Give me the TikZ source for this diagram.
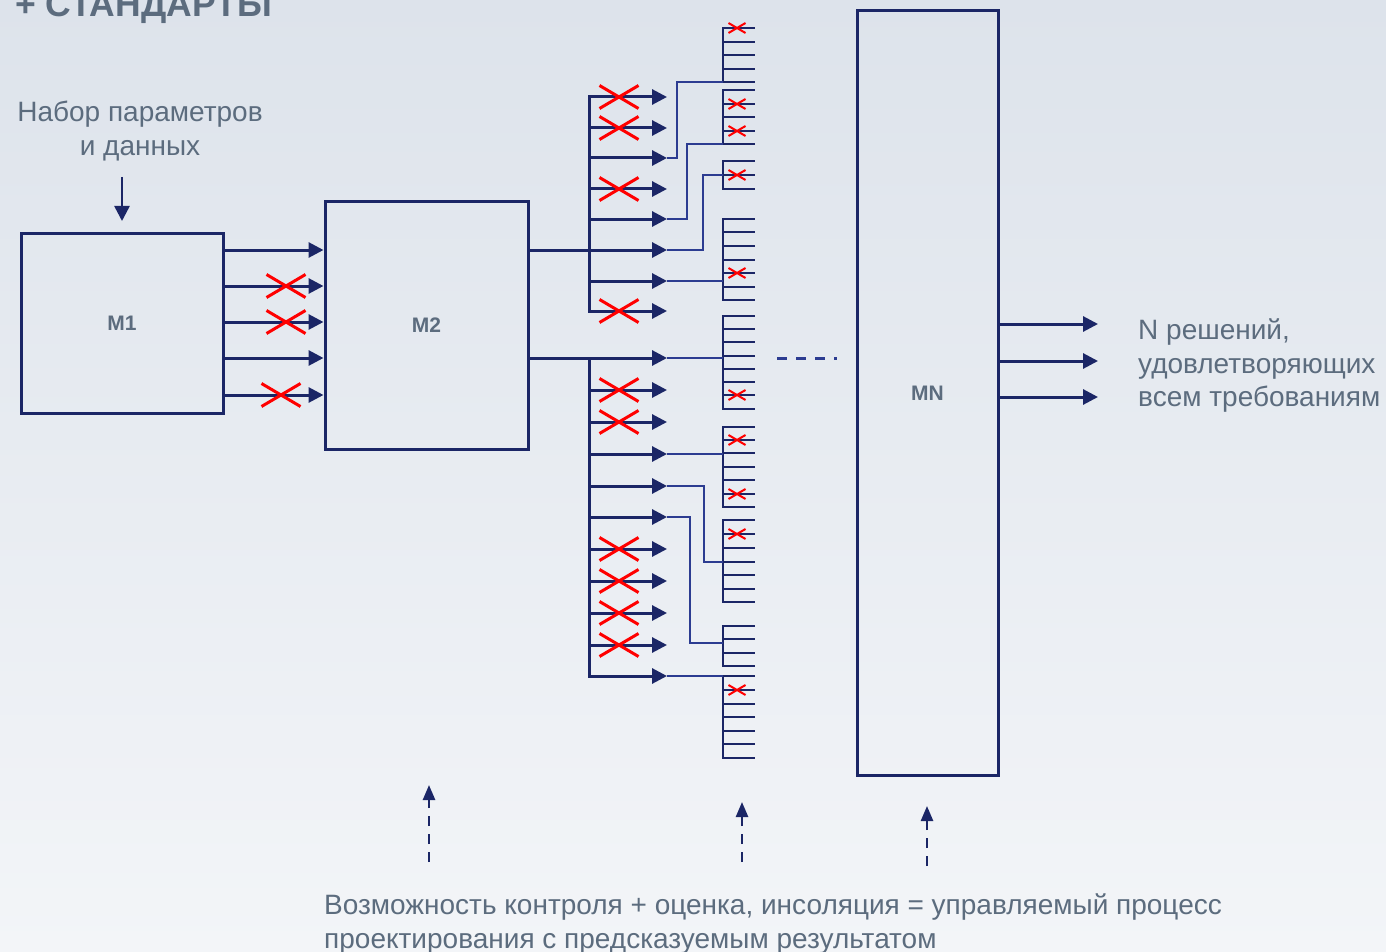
\documentclass[tikz,border=0pt]{standalone}
\usepackage{fontspec}
\setmainfont{Liberation Sans}
\usetikzlibrary{arrows.meta}
\definecolor{navy}{RGB}{27,38,102}
\definecolor{navyl}{RGB}{44,60,145}
\definecolor{txt}{RGB}{92,108,126}
\definecolor{bgtop}{RGB}{221,227,235}
\definecolor{bgbot}{RGB}{243,245,248}
\newcommand\drawcomb[3]{%
  \draw[tick,line cap=rect] (723,#1) -- (723,#2);
  \foreach \t in {#3} \draw[tick] (723,\t) -- (755,\t);
}
\begin{document}
\begin{tikzpicture}[x=1pt,y=-1pt,
  box/.style={draw=navy,line width=3pt,inner sep=0pt,font=\bfseries\fontsize{21}{24}\selectfont,text=txt},
  arr/.style={draw=navy,line width=3pt,-{Triangle[length=15pt,width=15pt]}},
  dline/.style={draw=navy,line width=3pt},
  conn/.style={draw=navyl,line width=2pt},
  tick/.style={draw=navy,line width=2.6pt},
  lbl/.style={text=txt,inner sep=0pt,font=\fontsize{28}{33.5}\selectfont},
  bigcross/.pic={\draw[red,line width=3pt] (-19.5,-11.5) -- (19.5,11.5) (-19.5,11.5) -- (19.5,-11.5);},
  smallcross/.pic={\draw[red,line width=2pt] (-8.5,-5) -- (8.5,5) (-8.5,5) -- (8.5,-5);},
  dasharr/.style={draw=navy,line width=2.5pt,dash pattern=on 10pt off 8pt,-{Triangle[length=15pt,width=12pt]}}
]
\useasboundingbox (0,0) rectangle (1386,952);
\fill[top color=bgtop,bottom color=bgbot] (0,0) rectangle (1386,952);

% title (cut at top, as in the reference)
\node[anchor=base west,inner sep=0pt,text=txt,font=\bfseries\fontsize{35.5}{40}\selectfont] (title) at (15,17) {+ СТАНДАРТЫ};

% boxes
\node[box,minimum width=202pt,minimum height=180pt] (M1) at (122,323) {M1};
\node[box,minimum width=203pt,minimum height=247pt] (M2) at (426.5,325.5) {M2};
\node[box,minimum width=141pt,minimum height=764pt] (MN) at (927.5,393) {MN};

% input label and arrow
\node[lbl,align=center,anchor=north] (inlbl) at (140,101) {Набор параметров\\и данных};
\coordinate (inS) at (122,177);
\coordinate (inE) at (122,221);
\draw[arr,line width=2.5pt] (inS) -- (inE);

% M1 -> M2
\foreach \y in {250,286,322,358,395} {
  \coordinate (r\y) at (0,\y);
  \draw[arr] (M1.east |- r\y) -- (M2.west |- r\y);
}
\pic at (286,286) {bigcross};
\pic at (286,322) {bigcross};
\pic at (281,395) {bigcross};

% upper branch
\coordinate (suT) at (589,97);
\coordinate (suB) at (589,311);
\draw[dline] (M2.east |- r250) -- (r250 -| suT);
\draw[dline,line cap=rect] (suT) -- (suB);
\foreach \y in {97,128,158,189,219,250,281,311} {
  \coordinate (u\y) at (589,\y);
  \coordinate (ut\y) at (667,\y);
  \draw[arr] (u\y) -- (ut\y);
}
\foreach \y in {97,128,189,311} \pic at (619,\y) {bigcross};

% lower branch
\coordinate (slT) at (589,358);
\coordinate (slB) at (589,676);
\draw[dline] (M2.east |- r358) -- (slT);
\draw[dline,line cap=rect] (slT) -- (slB);
\foreach \y in {358,390,422,454,486,517,549,581,613,645,676} {
  \coordinate (l\y) at (589,\y);
  \coordinate (lt\y) at (667,\y);
  \draw[arr] (l\y) -- (lt\y);
}
\foreach \y in {390,422,549,581,613,645} \pic at (619,\y) {bigcross};

% combs
\drawcomb{28}{82}{28,42,55,69,82}
\drawcomb{90}{144}{90,104,117,131,144}
\drawcomb{161}{189}{161,175,189}
\drawcomb{219}{300}{219,232,246,260,273,287,300}
\drawcomb{316}{409}{316,329,342,356,369,382,395,409}
\drawcomb{427}{507}{427,440,453,467,480,494,507}
\drawcomb{520}{602}{520,534,548,562,575,589,602}
\drawcomb{626}{666}{626,639,653,666}
\drawcomb{676}{758}{676,690,704,717,731,744,758}
\foreach \y in {28,104,131,175,273,395,440,494,534,690} \pic at (737,\y) {smallcross};

% connectors to combs
\coordinate (cA) at (723,82);
\coordinate (cB) at (723,144);
\coordinate (cC) at (723,175);
\coordinate (cD) at (723,281);
\coordinate (cE) at (723,358);
\coordinate (cF) at (723,454);
\coordinate (cG) at (723,562);
\coordinate (cH) at (723,643);
\coordinate (cI) at (723,676);
\draw[conn] (ut158) -- ++(10,0) |- (cA);
\draw[conn] (ut219) -- ++(20,0) |- (cB);
\draw[conn] (ut250) -- ++(36,0) |- (cC);
\draw[conn] (ut281) -- (cD);
\draw[conn] (lt358) -- (cE);
\draw[conn] (lt454) -- (cF);
\draw[conn] (lt486) -- ++(37,0) |- (cG);
\draw[conn] (lt517) -- ++(23,0) |- (cH);
\draw[conn] (lt676) -- (cI);

% ellipsis dashes
\coordinate (dL) at (777,358);
\coordinate (dR) at (837,358);
\draw[draw=navyl,line width=3pt,dash pattern=on 10pt off 9pt] (dL) -- (dR);

% outputs of MN
\foreach \y in {324,361,397} {
  \coordinate (o\y) at (1098,\y);
  \draw[arr] (MN.east |- o\y) -- (o\y);
}
\node[lbl,align=left,anchor=north west] (outlbl) at (1138,319) {N решений,\\удовлетворяющих\\всем требованиям};

% dashed control arrows
\coordinate (b1s) at (429,862); \coordinate (b1e) at (429,785);
\coordinate (b2s) at (742,862); \coordinate (b2e) at (742,802);
\coordinate (b3s) at (927,866); \coordinate (b3e) at (927,806);
\draw[dasharr] (b1s) -- (b1e);
\draw[dasharr] (b2s) -- (b2e);
\draw[dasharr] (b3s) -- (b3e);

\node[lbl,align=left,anchor=north west] (botlbl) at (324,894) {Возможность контроля + оценка, инсоляция = управляемый процесс\\проектирования с предсказуемым результатом};
\end{tikzpicture}
\end{document}
